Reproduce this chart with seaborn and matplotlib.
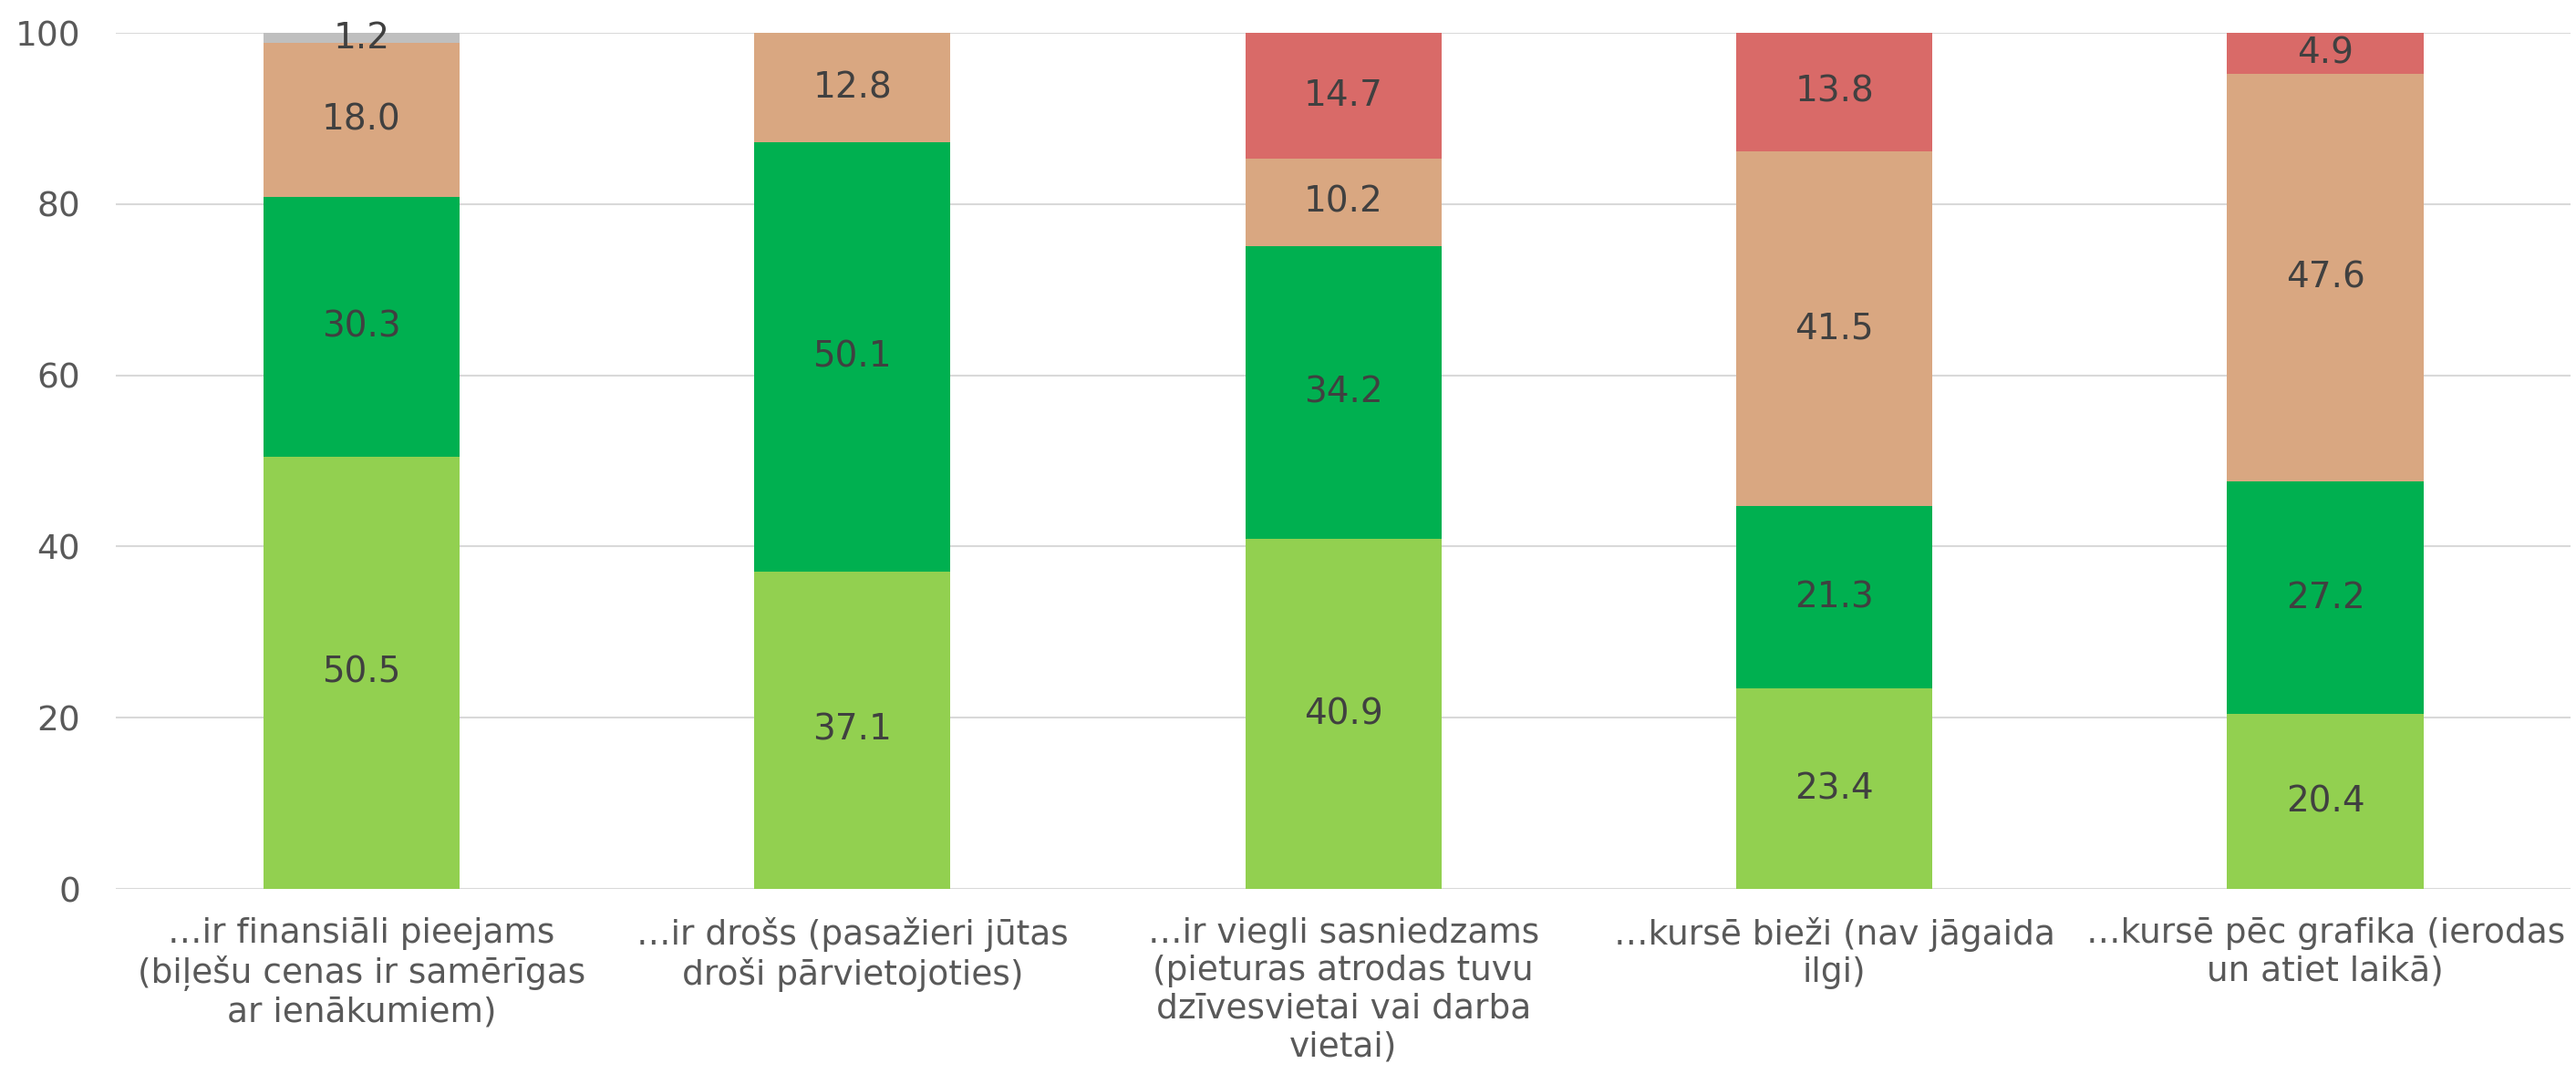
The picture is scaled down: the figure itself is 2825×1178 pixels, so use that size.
import numpy as np
import seaborn as sns
import matplotlib.pyplot as plt
import pandas as pd

categories = [
    "…ir finansiāli pieejams\n(biļešu cenas ir samērīgas\nar ienākumiem)",
    "…ir drošs (pasažieri jūtas\ndroši pārvietojoties)",
    "…ir viegli sasniedzams\n(pieturas atrodas tuvu\ndzīvesvietai vai darba\nvietai)",
    "…kursē bieži (nav jāgaida\nilgi)",
    "…kursē pēc grafika (ierodas\nun atiet laikā)",
]

# segments from bottom to top
light_green = [50.5, 37.1, 40.9, 23.4, 20.4]
dark_green = [30.3, 50.1, 34.2, 21.3, 27.2]
tan = [18.0, 12.8, 10.2, 41.5, 47.6]
red = [0.0, 0.0, 14.7, 13.8, 4.9]
grey = [1.2, 0.0, 0.0, 0.0, 0.0]

layers = [light_green, dark_green, tan, red, grey]
colors = ["#92D050", "#00B050", "#D9A781", "#D96A68", "#BFBFBF"]

sns.set_theme(style="white")
plt.rcParams['font.family'] = ['DejaVu Sans']

fig = plt.figure(figsize=(28.25, 11.78), dpi=100)
ax = fig.add_axes([0.045, 0.1723, 0.953, 0.7971])

vals = np.array(layers)
cum = np.cumsum(vals, axis=0)

# draw cumulative bars from the top layer down so each covers the one above
for i in range(len(layers) - 1, -1, -1):
    df = pd.DataFrame({"cat": categories, "val": cum[i]})
    sns.barplot(data=df, x="cat", y="val", color=colors[i], width=0.4,
                saturation=1, linewidth=0, ax=ax, zorder=2)

for i in range(len(layers)):
    for j in range(len(categories)):
        v = vals[i, j]
        if v > 0:
            ax.text(j, cum[i, j] - v / 2, f"{v:.1f}", ha="center", va="center",
                    fontsize=28, color="#404040", zorder=3)

ax.set_ylim(0, 100)
ax.set_xlim(-0.5, len(categories) - 0.5)
ax.set_yticks(range(0, 101, 20))
ax.set_xlabel("")
ax.set_ylabel("")
ax.grid(axis="y", color="#D9D9D9", linewidth=1.5, zorder=0)
ax.set_axisbelow(True)
for s in ax.spines.values():
    s.set_visible(False)
ax.tick_params(axis="y", labelsize=27, labelcolor="#595959", length=0, pad=28)
ax.tick_params(axis="x", labelsize=27, labelcolor="#595959", length=0, pad=22)

fig.savefig("out.png", dpi=100)
